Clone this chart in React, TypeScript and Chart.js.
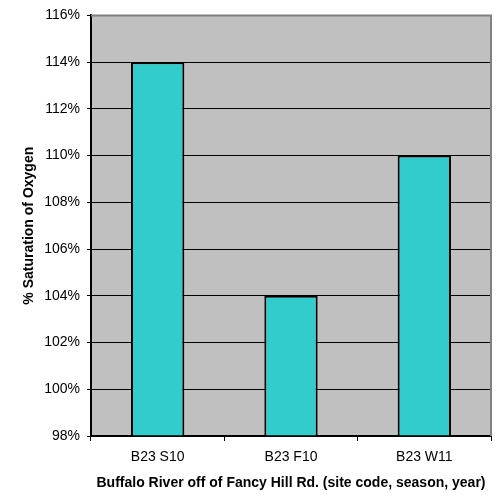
import React, { useEffect, useRef } from "react";
import { Chart, registerables } from "chart.js";

Chart.register(...registerables);

const categories = ["B23 S10", "B23 F10", "B23 W11"];
const saturation = [114, 104, 110];
const yMin = 98;
const yMax = 116;
const yStep = 2;
const yTitle = "% Saturation of Oxygen";
const xTitle = "Buffalo River off of Fancy Hill Rd. (site code, season, year)";

const plotBg = {
  id: "plotBg",
  beforeDraw(chart: any) {
    const { ctx, chartArea: a } = chart;
    ctx.save();
    ctx.fillStyle = "#c0c0c0";
    ctx.fillRect(a.left, a.top, a.right - a.left, a.bottom - a.top);
    ctx.restore();
  },
  afterDatasetsDraw(chart: any) {
    const { ctx, chartArea: a } = chart;
    ctx.save();
    ctx.strokeStyle = "#808080";
    ctx.lineWidth = 2;
    ctx.beginPath();
    ctx.moveTo(a.left, a.top);
    ctx.lineTo(a.right, a.top);
    ctx.lineTo(a.right, a.bottom);
    ctx.stroke();
    ctx.restore();
  },
};

export default function App() {
  const ref = useRef<HTMLCanvasElement | null>(null);
  useEffect(() => {
    document.body.style.margin = "0";
    const chart = new Chart(ref.current as HTMLCanvasElement, {
      type: "bar",
      data: {
        labels: categories,
        datasets: [
          {
            data: saturation,
            backgroundColor: "#33cccc",
            borderColor: "#000000",
            borderWidth: 2,
            barPercentage: 0.4,
            categoryPercentage: 1,
            base: yMin,
          },
        ],
      },
      plugins: [plotBg],
      options: {
        animation: false,
        responsive: false,
        maintainAspectRatio: false,
        layout: { padding: { left: 0, right: 7, top: 14, bottom: 0 } },
        plugins: { legend: { display: false }, tooltip: { enabled: false } },
        scales: {
          x: {
            offset: true,
            grid: {
              offset: true,
              drawOnChartArea: false,
              drawTicks: true,
              tickLength: 5,
              color: "#000000",
              lineWidth: 1,
            },
            border: { color: "#000000", width: 2 },
            ticks: {
              color: "#000000",
              font: { family: "Liberation Sans", size: 14 },
              padding: 8,
              maxRotation: 0,
            },
            title: {
              display: true,
              text: xTitle,
              color: "#000000",
              font: { family: "Liberation Sans", size: 14, weight: "bold" },
              padding: { top: 8, bottom: 3 },
            },
            afterFit: (s: any) => {
              s.height = 59;
            },
          },
          y: {
            min: yMin,
            max: yMax,
            grid: {
              color: "#000000",
              lineWidth: 1,
              tickLength: 4,
            },
            border: { color: "#000000", width: 2 },
            ticks: {
              stepSize: yStep,
              color: "#000000",
              font: { family: "Liberation Sans", size: 14 },
              padding: 7,
              callback: (v: any) => v + "%",
            },
            title: {
              display: true,
              text: yTitle,
              color: "#000000",
              font: { family: "Liberation Sans", size: 14, weight: "bold" },
              padding: { top: 21, bottom: 4 },
            },
            afterFit: (s: any) => {
              s.width = 91;
            },
          },
        },
      },
    });
    return () => chart.destroy();
  }, []);
  return (
    <div style={{ position: "absolute", left: 0, top: 0 }}>
      <canvas ref={ref} width={498} height={495} />
    </div>
  );
}
